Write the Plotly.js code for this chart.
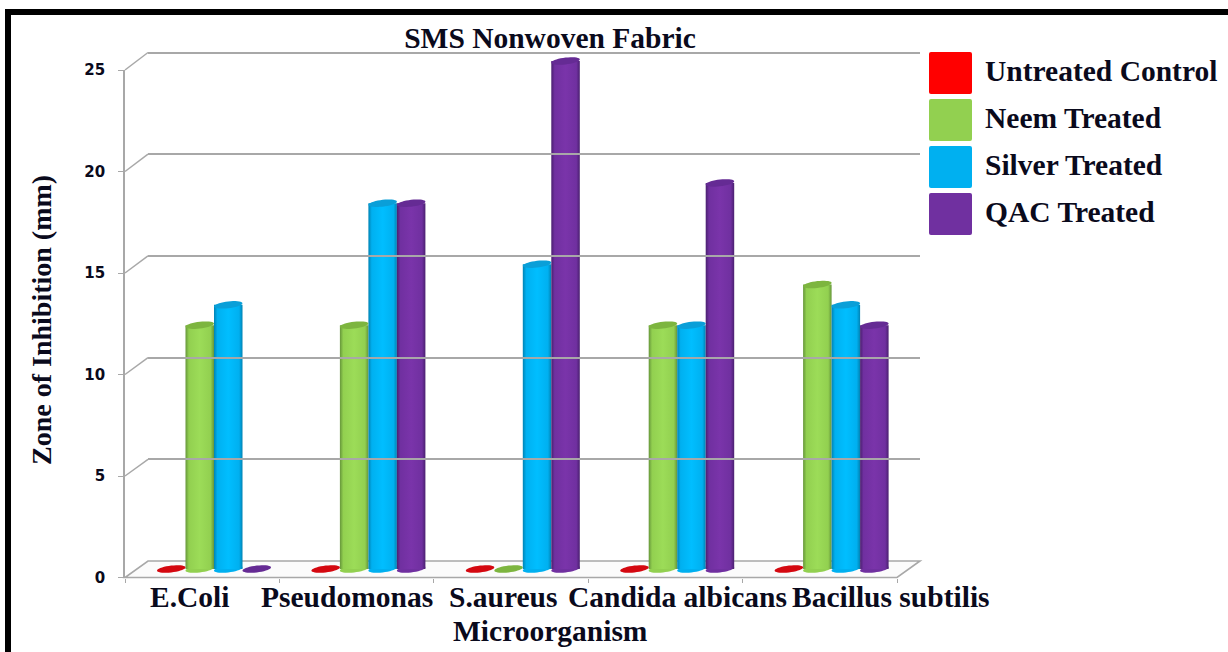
<!DOCTYPE html>
<html>
<head>
<meta charset="utf-8">
<script src="https://cdn.plot.ly/plotly-3.0.1.min.js"></script>
<style>html,body{margin:0;padding:0;background:#fff;overflow:hidden}</style>
</head>
<body>
<div id="chart" style="width:1228px;height:652px"></div>
<script>
const categories = ["E.Coli", "Pseudomonas", "S.aureus", "Candida albicans", "Bacillus subtilis"];
const untreatedControl = [0, 0, 0, 0, 0];
const neemTreated = [12, 12, 0, 12, 14];
const silverTreated = [13, 18, 15, 12, 13];
const qacTreated = [0, 18, 25, 19, 12];
const seriesNames = ["Untreated Control", "Neem Treated", "Silver Treated", "QAC Treated"];
const seriesColors = ["#FF0000", "#92D050", "#00B0F0", "#7030A0"];
const topColors = ["#D40810", "#7DB53F", "#0A9FD8", "#652B94"];
const edgeColors = ["#A00000", "#66963A", "#0083B4", "#4A2070"];
const midColors = ["#FF2020", "#9CDC58", "#00BEFF", "#7A34AA"];
const yTicks = [0, 5, 10, 15, 20, 25];
const labelCenters = [190, 347, 503, 677, 891];
const title = "SMS Nonwoven Fabric";
const xTitle = "Microorganism";
const yTitle = "Zone of Inhibition (mm)";

const allSeries = [untreatedControl, neemTreated, silverTreated, qacTreated];
const W = 1228, H = 652;
const px = v => v / W, py = v => 1 - v / H;
const serif = "'Liberation Serif','Times New Roman',serif";
const ink = "#0a0a1c", grey = "#a8a8a8";

const BAR = 28.5, STEP = 154.4, C0 = 214;
const barX = (c, s) => C0 + c * STEP + (s - 1.5) * BAR;
const barY = v => 569 - v * 20.32;
const frontY = v => 577.5 - v * 20.3;
const backY = v => 561 - v * 20.34;

function ellipsePath(cx, cy) {
  const a = BAR / 2, b = 3.4, s = 1.6;
  let d = "";
  for (let i = 0; i < 36; i++) {
    const t = i / 36 * 2 * Math.PI;
    const x = cx + a * Math.cos(t);
    const y = cy + b * Math.sin(t) - s * Math.cos(t);
    d += (i ? "L" : "M") + px(x).toFixed(5) + "," + py(y).toFixed(5);
  }
  return d + "Z";
}
function polyPath(pts) {
  return pts.map((p, i) => (i ? "L" : "M") + px(p[0]).toFixed(5) + "," + py(p[1]).toFixed(5)).join("") + "Z";
}
function roundRect(x0, y0, x1, y1, r) {
  const X = px, Y = py;
  return `M${X(x0 + r)},${Y(y0)}L${X(x1 - r)},${Y(y0)}Q${X(x1)},${Y(y0)} ${X(x1)},${Y(y0 + r)}` +
    `L${X(x1)},${Y(y1 - r)}Q${X(x1)},${Y(y1)} ${X(x1 - r)},${Y(y1)}L${X(x0 + r)},${Y(y1)}` +
    `Q${X(x0)},${Y(y1)} ${X(x0)},${Y(y1 - r)}L${X(x0)},${Y(y0 + r)}Q${X(x0)},${Y(y0)} ${X(x0 + r)},${Y(y0)}Z`;
}
const paperShape = o => Object.assign({ xref: "paper", yref: "paper" }, o);

const shapes = [];
// black frame
shapes.push(paperShape({ type: "rect", x0: px(5), x1: 1, y0: py(15), y1: py(9), fillcolor: "#000", line: { width: 0 }, layer: "below" }));
shapes.push(paperShape({ type: "rect", x0: px(5), x1: px(11), y0: 0, y1: py(9), fillcolor: "#000", line: { width: 0 }, layer: "below" }));
// floor
shapes.push(paperShape({
  type: "path", layer: "below", fillcolor: "#fbfbfb", line: { color: grey, width: 1.6 },
  path: polyPath([[125, 577.5], [897, 577.5], [920, 561], [148, 561]])
}));
// slanted links from front axis to back wall
yTicks.filter(v => v > 0).forEach(v => shapes.push(paperShape({
  type: "line", layer: "below", line: { color: grey, width: 1.5 },
  x0: px(125), x1: px(148), y0: py(frontY(v)), y1: py(backY(v))
})));
// cylinder ends
allSeries.forEach((vals, s) => vals.forEach((v, c) => {
  if (v > 0) shapes.push(paperShape({
    type: "path", layer: "below", fillcolor: seriesColors[s], line: { width: 0 },
    path: ellipsePath(barX(c, s), barY(0))
  }));
}));
allSeries.forEach((vals, s) => vals.forEach((v, c) => {
  shapes.push(paperShape({
    type: "path", layer: "above", fillcolor: topColors[s], line: { width: 0 },
    path: ellipsePath(barX(c, s), barY(v))
  }));
}));
// legend swatches
seriesColors.forEach((col, i) => {
  const y0 = 52 + i * 47;
  shapes.push(paperShape({ type: "path", layer: "above", fillcolor: col, line: { width: 0 }, path: roundRect(929, y0, 972, y0 + 42, 2) }));
});

const annotations = [];
const note = (text, x, y, size, anchor, extra) => annotations.push(Object.assign({
  text: "<b>" + text + "</b>", xref: "paper", yref: "paper", x: px(x), y: py(y),
  xanchor: anchor, yanchor: "middle", showarrow: false, font: { family: serif, size: size, color: ink }
}, extra || {}));
categories.forEach((c, i) => note(c, labelCenters[i], 597, 29.5, "center"));
note(xTitle, 550, 631, 29.5, "center");
note(yTitle, 41, 320, 28, "center", { textangle: -90 });
seriesNames.forEach((n, i) => note(n, 983, 71 + i * 47, 29.5, "left"));

const traces = allSeries.map((vals, s) => ({
  type: "bar", name: seriesNames[s], x: categories, y: vals,
  marker: { color: seriesColors[s], line: { width: 0 } },
  xaxis: "x", yaxis: "y", hoverinfo: "x+y+name"
}));
// invisible carriers so that the front axis and back wall subplots exist
traces.push({ type: "scatter", x: [0], y: [0], xaxis: "x2", yaxis: "y2", mode: "none", showlegend: false, hoverinfo: "skip" });
traces.push({ type: "scatter", x: [0], y: [0], xaxis: "x3", yaxis: "y3", mode: "none", showlegend: false, hoverinfo: "skip" });

const layout = {
  width: W, height: H, margin: { l: 0, r: 0, t: 0, b: 0, pad: 0 },
  paper_bgcolor: "#fff", plot_bgcolor: "rgba(0,0,0,0)",
  showlegend: false, barmode: "group", bargap: 0.2617, bargroupgap: 0,
  title: {
    text: "<b>" + title + "</b>", x: px(550), xanchor: "center", xref: "paper",
    y: py(37.5), yanchor: "middle", yref: "paper", font: { family: serif, size: 29.5, color: ink }
  },
  xaxis: {
    domain: [px(136.8), px(908.8)], range: [-0.5, 4.5], type: "category", categoryorder: "array",
    categoryarray: categories, anchor: "y", showgrid: false, showline: false, zeroline: false,
    showticklabels: false, ticks: ""
  },
  yaxis: {
    domain: [py(569), py(61)], range: [0, 25], anchor: "x", showgrid: false, showline: false,
    zeroline: false, showticklabels: false, ticks: ""
  },
  xaxis2: {
    domain: [px(125), px(897)], range: [0, 5], anchor: "y2", dtick: 1, tick0: 0, ticks: "outside",
    ticklen: 4, tickwidth: 1.2, tickcolor: grey, showline: false, showgrid: false, zeroline: false, showticklabels: false
  },
  yaxis2: {
    domain: [py(577.5), py(70)], range: [0, 25], anchor: "x2", tickmode: "array", tickvals: yTicks,
    ticktext: yTicks.map(String), ticks: "outside", ticklen: 5, tickwidth: 1.2, tickcolor: grey,
    showline: true, linecolor: grey, linewidth: 1.6, showgrid: false, zeroline: false,
    ticklabelstandoff: 10, tickfont: { family: "'DejaVu Sans',Verdana,sans-serif", size: 15, weight: 700, color: ink }
  },
  xaxis3: {
    domain: [px(148), px(920)], range: [0, 1], anchor: "y3", showgrid: false, showline: false,
    zeroline: false, showticklabels: false, ticks: ""
  },
  yaxis3: {
    domain: [py(561), py(50)], range: [0, 25.123], anchor: "x3", tickmode: "array", tickvals: yTicks,
    showgrid: true, gridcolor: grey, gridwidth: 1.6, showline: false, zeroline: false, showticklabels: false, ticks: ""
  },
  shapes, annotations
};

const gd = document.getElementById("chart");
Plotly.newPlot(gd, traces, layout, { displayModeBar: false }).then(() => {
  const svg = gd.querySelector(".main-svg");
  const NS = "http://www.w3.org/2000/svg";
  let defs = svg.querySelector("defs");
  seriesColors.forEach((col, s) => {
    const g = document.createElementNS(NS, "linearGradient");
    g.setAttribute("id", "cyl" + s);
    g.setAttribute("x1", "0"); g.setAttribute("x2", "1"); g.setAttribute("y1", "0"); g.setAttribute("y2", "0");
    [[0, edgeColors[s]], [0.12, seriesColors[s]], [0.5, midColors[s]], [0.88, seriesColors[s]], [1, edgeColors[s]]].forEach(st => {
      const stop = document.createElementNS(NS, "stop");
      stop.setAttribute("offset", st[0]); stop.setAttribute("stop-color", st[1]);
      g.appendChild(stop);
    });
    defs.appendChild(g);
  });
  gd.querySelectorAll(".barlayer .trace.bars").forEach((t, s) => {
    t.querySelectorAll(".point path").forEach(p => { p.style.fill = "url(#cyl" + s + ")"; });
  });
});
</script>
</body>
</html>
